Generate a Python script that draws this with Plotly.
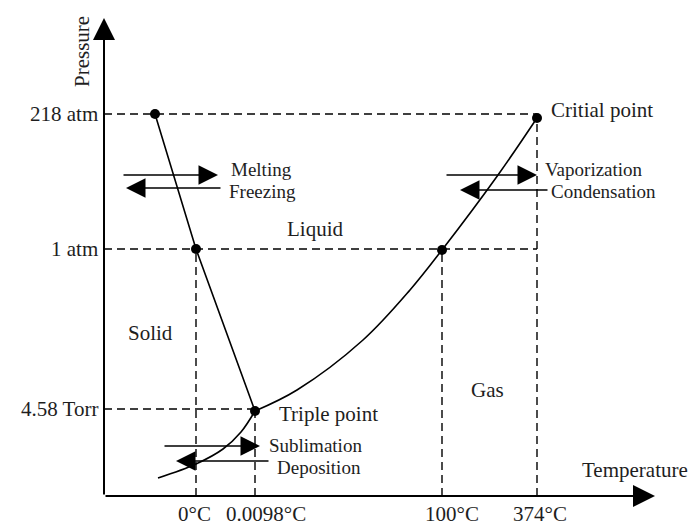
import plotly.graph_objects as go

# schematic units: one unit = one pixel measured from the axes' origin
temp_labels = ["0°C", "0.0098°C", "100°C", "374°C"]
temp_x = [92, 151, 338, 433]
temp_top = [247, 85, 246, 378]  # where each dashed guide meets the curve

pressure_labels = ["218 atm", "1 atm", "4.58 Torr"]
pressure_y = [382, 247, 87]
pressure_end = [433, 433, 151]

# phase boundaries
melt_x = [51, 92, 151]
melt_y = [382, 247, 85]

vap_x = [151, 193, 259, 306, 338, 394, 433]
vap_y = [85, 106, 156, 206, 246, 321, 378]

sub_x = [54, 92, 119, 137, 151]
sub_y = [18, 32, 47, 64, 85]

point_x = [51, 92, 151, 338, 433]
point_y = [382, 247, 85, 246, 378]

region_names = ["Solid", "Liquid", "Gas"]
region_x = [46, 211, 383]
region_y = [163, 267, 106]

process_names = ["Melting", "Freezing", "Vaporization", "Condensation", "Sublimation", "Deposition"]
process_tail = [18, 118, 341, 445, 59, 166]
process_head = [114, 22, 433, 356, 156, 72]
process_y = [321, 308, 321, 306, 50, 35]
process_text_x = [126, 124, 440, 446, 164, 172]
process_text_y = [327, 305, 327, 305, 51, 29]

FONT = dict(family="Liberation Serif", size=21, color="#1e1e1e")
SMALL_FONT = dict(family="Liberation Serif", size=19, color="#1e1e1e")
# the page has an 8px body margin, so the figure is drawn 8px in from the corner
X_MAX, Y_MAX = 595, 488


def paper_x(x):
    return x / X_MAX


def paper_y(y):
    return y / Y_MAX


fig = go.Figure()

# dashed guide lines
for y, x_end in zip(pressure_y, pressure_end):
    fig.add_trace(
        go.Scatter(
            x=[0, x_end], y=[y, y], mode="lines",
            line=dict(color="black", width=1.4, dash="8px,5px"),
            hoverinfo="skip", showlegend=False,
        )
    )
for x, y_top in zip(temp_x, temp_top):
    fig.add_trace(
        go.Scatter(
            x=[x, x], y=[0, y_top], mode="lines",
            line=dict(color="black", width=1.4, dash="8px,5px"),
            hoverinfo="skip", showlegend=False,
        )
    )

# phase boundary curves
fig.add_trace(go.Scatter(x=melt_x, y=melt_y, mode="lines",
                         line=dict(color="black", width=1.6), showlegend=False))
fig.add_trace(go.Scatter(x=vap_x, y=vap_y, mode="lines",
                         line=dict(color="black", width=1.6, shape="spline"), showlegend=False))
fig.add_trace(go.Scatter(x=sub_x, y=sub_y, mode="lines",
                         line=dict(color="black", width=1.6, shape="spline"), showlegend=False))

fig.add_trace(go.Scatter(x=point_x, y=point_y, mode="markers",
                         marker=dict(color="black", size=10), showlegend=False))

# axes drawn as arrows
fig.add_annotation(x=0, y=478, ax=0, ay=0, xref="x", yref="y", axref="x", ayref="y",
                   text="", showarrow=True, arrowhead=2, arrowsize=2.2, arrowwidth=2, arrowcolor="black")
fig.add_annotation(x=551, y=0, ax=0, ay=0, xref="x", yref="y", axref="x", ayref="y",
                   text="", showarrow=True, arrowhead=2, arrowsize=2.2, arrowwidth=2, arrowcolor="black")

# process arrows and their labels
for name, tail, head, y, tx, ty in zip(process_names, process_tail, process_head,
                                       process_y, process_text_x, process_text_y):
    fig.add_annotation(x=head, y=y, ax=tail, ay=y, xref="x", yref="y", axref="x", ayref="y",
                       text="", showarrow=True, arrowhead=2, arrowsize=2.6, arrowwidth=1.5,
                       arrowcolor="black")
    fig.add_annotation(x=tx, y=ty, text=name, showarrow=False, borderpad=0,
                       xanchor="left", yanchor="middle", font=SMALL_FONT)

# tick labels (paper refs so they are not hidden outside the axis range)
for label, y in zip(pressure_labels, pressure_y):
    fig.add_annotation(x=paper_x(-4), y=paper_y(y), xref="paper", yref="paper", text=label,
                       showarrow=False, xanchor="right", yanchor="middle", font=FONT)
for label, x, dx in zip(temp_labels, temp_x, [-2, 11, 10, 3]):
    fig.add_annotation(x=paper_x(x + dx), y=paper_y(-18), xref="paper", yref="paper", text=label,
                       showarrow=False, xanchor="center", yanchor="middle", font=FONT)

for name, x, y in zip(region_names, region_x, region_y):
    fig.add_annotation(x=x, y=y, text=name, showarrow=False, font=FONT)

fig.add_annotation(x=point_x[4] + 12, y=point_y[4] + 8, text="Critial point",
                   showarrow=False, xanchor="left", yanchor="middle", font=FONT)
fig.add_annotation(x=point_x[2] + 22, y=point_y[2] - 3, text="Triple point",
                   showarrow=False, xanchor="left", yanchor="middle", font=FONT)
fig.add_annotation(x=585, y=26, text="Temperature", showarrow=False, borderpad=0,
                   xanchor="right", yanchor="middle", font=FONT)
fig.add_annotation(x=paper_x(-22), y=paper_y(444), xref="paper", yref="paper", text="Pressure",
                   textangle=-90, showarrow=False, xanchor="center", yanchor="middle", font=FONT)

fig.update_xaxes(range=[0, X_MAX], visible=False, fixedrange=True)
fig.update_yaxes(range=[0, Y_MAX], visible=False, fixedrange=True)
fig.update_layout(
    width=691,
    height=519,
    autosize=False,
    margin=dict(l=96, r=0, t=0, b=31),
    paper_bgcolor="white",
    plot_bgcolor="white",
    showlegend=False,
)

fig.write_html("out.html")
